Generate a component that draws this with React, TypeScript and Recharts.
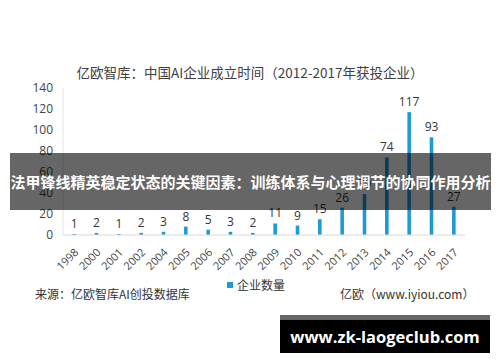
import { BarChart, Bar, XAxis, YAxis, LabelList } from 'recharts';

const years = [
  '1998', '2000', '2001', '2002', '2004', '2005', '2006', '2007', '2008',
  '2009', '2010', '2011', '2012', '2013', '2014', '2015', '2016', '2017',
];
const counts = [1, 2, 1, 2, 3, 8, 5, 3, 2, 11, 9, 15, 26, 39, 74, 117, 93, 27];
const yTicks = [0, 20, 40, 60, 80, 100, 120, 140];

const data = years.map((year, i) => ({ year, count: counts[i] }));

const FONT = '"Open Sans", "Noto Sans CJK SC", sans-serif';
const CJK = '"Noto Sans CJK SC", "Open Sans", sans-serif';

function YearTick(props: any) {
  const { x, y, payload } = props;
  return (
    <text
      x={x + 5}
      y={y + 10}
      transform={`rotate(-45, ${x + 5}, ${y + 10})`}
      textAnchor="end"
      fontSize={11}
      fill="#444"
      fontFamily={FONT}
    >
      {payload.value}
    </text>
  );
}

export default function App() {
  return (
    <div
      style={{
        position: 'fixed',
        left: 0,
        top: 0,
        width: 500,
        height: 362,
        background: '#fff',
        overflow: 'hidden',
      }}
    >
      <div
        style={{
          position: 'absolute',
          top: 62,
          left: 0,
          width: 500,
          textAlign: 'center',
          fontFamily: CJK,
          fontSize: 13.5,
          color: '#404040',
          lineHeight: '20px',
        }}
      >
        亿欧智库：中国AI企业成立时间（2012-2017年获投企业）
      </div>

      <BarChart
        width={500}
        height={362}
        data={data}
        margin={{ top: 88, right: 35, left: 0, bottom: 87 }}
        barCategoryGap="58%"
      >
        <XAxis
          dataKey="year"
          interval={0}
          height={40}
          tickLine={false}
          axisLine={{ stroke: '#d9d9d9' }}
          tick={<YearTick />}
        />
        <YAxis
          domain={[0, 140]}
          ticks={yTicks}
          width={63}
          tickLine={false}
          tickSize={0}
          tickMargin={10}
          axisLine={{ stroke: '#e3e3e3' }}
          tick={{ fontSize: 12, fill: '#444', fontFamily: FONT }}
          interval={0}
        />
        <Bar dataKey="count" fill="#1c9ad6" isAnimationActive={false}>
          <LabelList
            dataKey="count"
            position="top"
            offset={6}
            fontSize={12}
            fill="#333"
            fontFamily={FONT}
          />
        </Bar>
      </BarChart>

      <div
        style={{
          position: 'absolute',
          top: 277,
          left: 227,
          fontFamily: CJK,
          fontSize: 12,
          color: '#333',
          display: 'flex',
          alignItems: 'center',
          lineHeight: '16px',
        }}
      >
        <span
          style={{ display: 'inline-block', width: 6, height: 6, background: '#1c9ad6', marginRight: 4 }}
        />
        企业数量
      </div>
      <div
        style={{
          position: 'absolute',
          top: 286,
          left: 35,
          fontFamily: CJK,
          fontSize: 12,
          color: '#333',
          lineHeight: '16px',
        }}
      >
        来源：亿欧智库AI创投数据库
      </div>
      <div
        style={{
          position: 'absolute',
          top: 286,
          left: 340,
          fontFamily: CJK,
          fontSize: 12,
          color: '#333',
          lineHeight: '16px',
        }}
      >
        亿欧（www.iyiou.com）
      </div>

      <div
        style={{
          position: 'absolute',
          top: 153,
          left: 10,
          width: 481,
          height: 57,
          background: 'rgba(0,0,0,0.6)',
          display: 'flex',
          alignItems: 'center',
          justifyContent: 'center',
          fontFamily: CJK,
          fontWeight: 700,
          fontSize: 15,
          color: '#fff',
          whiteSpace: 'nowrap',
        }}
      >
        法甲锋线精英稳定状态的关键因素：训练体系与心理调节的协同作用分析
      </div>

      <div
        style={{
          position: 'absolute',
          top: 315,
          left: 280,
          width: 210,
          height: 33,
          borderTop: '5px solid #666',
          background: '#000',
          display: 'flex',
          alignItems: 'center',
          justifyContent: 'center',
          fontFamily: '"Open Sans", sans-serif',
          fontWeight: 700,
          fontSize: 16.5,
          color: '#fff',
        }}
      >
        www.zk-laogeclub.com
      </div>
    </div>
  );
}
